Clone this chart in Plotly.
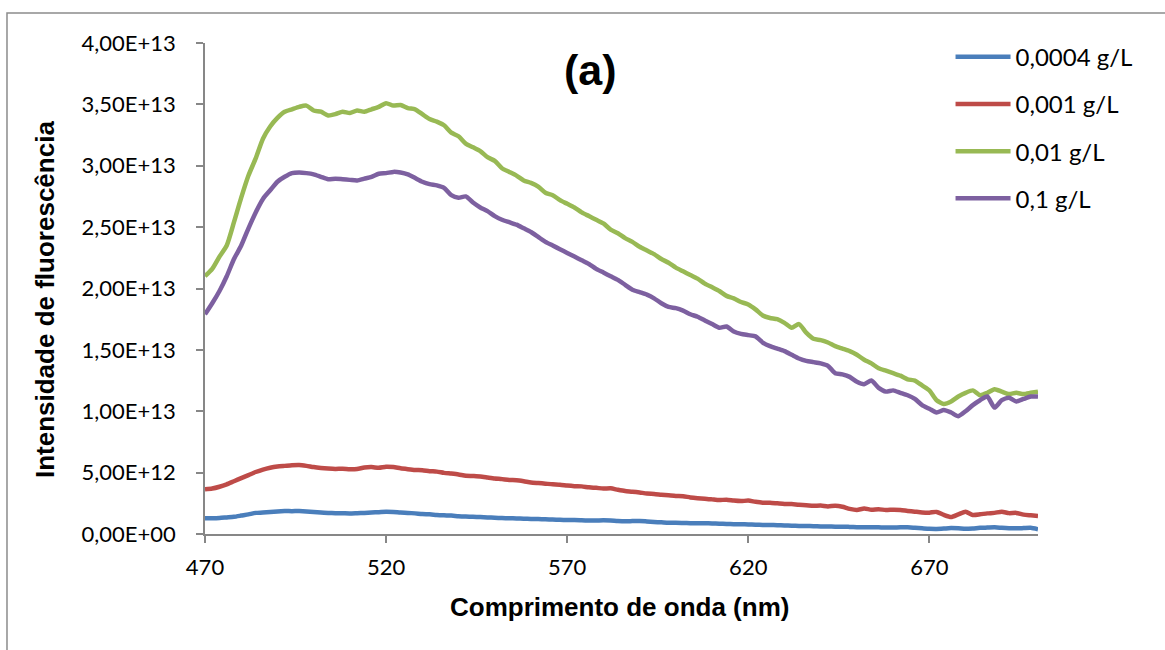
import numpy as np
import plotly.graph_objects as go

# Wavelength grid (nm)
wavelength = list(range(470, 701, 2))

# Fluorescence intensity, in units of 1e12
conc_0004 = [1.28, 1.28, 1.30, 1.35, 1.40, 1.50, 1.60, 1.72, 1.75, 1.80, 1.84, 1.87, 1.86, 1.87, 1.84, 1.80,
             1.75, 1.72, 1.70, 1.69, 1.68, 1.70, 1.72, 1.75, 1.78, 1.82, 1.80, 1.75, 1.72, 1.68, 1.62, 1.60,
             1.55, 1.52, 1.50, 1.45, 1.42, 1.40, 1.38, 1.35, 1.32, 1.30, 1.28, 1.27, 1.25, 1.23, 1.22, 1.20,
             1.18, 1.16, 1.14, 1.14, 1.12, 1.10, 1.10, 1.12, 1.10, 1.06, 1.04, 1.05, 1.06, 1.02, 0.98, 0.95,
             0.92, 0.92, 0.90, 0.88, 0.87, 0.87, 0.86, 0.84, 0.82, 0.80, 0.79, 0.78, 0.76, 0.74, 0.73, 0.72,
             0.70, 0.68, 0.66, 0.65, 0.64, 0.62, 0.61, 0.60, 0.60, 0.58, 0.56, 0.54, 0.55, 0.54, 0.52, 0.53,
             0.54, 0.54, 0.50, 0.46, 0.42, 0.41, 0.44, 0.48, 0.46, 0.42, 0.45, 0.50, 0.52, 0.54, 0.50, 0.47,
             0.46, 0.48, 0.50, 0.38]

conc_001 = [3.64, 3.70, 3.85, 4.05, 4.30, 4.55, 4.80, 5.05, 5.25, 5.40, 5.50, 5.55, 5.60, 5.62, 5.55, 5.45,
            5.38, 5.33, 5.30, 5.32, 5.28, 5.30, 5.42, 5.45, 5.40, 5.48, 5.45, 5.35, 5.28, 5.22, 5.20, 5.12,
            5.08, 4.98, 4.92, 4.85, 4.75, 4.72, 4.68, 4.60, 4.52, 4.47, 4.40, 4.38, 4.30, 4.20, 4.15, 4.10,
            4.05, 4.02, 3.95, 3.90, 3.88, 3.80, 3.76, 3.70, 3.72, 3.60, 3.50, 3.45, 3.38, 3.30, 3.26, 3.20,
            3.15, 3.10, 3.08, 2.98, 2.92, 2.88, 2.82, 2.76, 2.80, 2.72, 2.68, 2.72, 2.62, 2.55, 2.55, 2.50,
            2.45, 2.44, 2.38, 2.35, 2.30, 2.32, 2.25, 2.30, 2.22, 2.05, 1.96, 2.08, 1.98, 2.02, 1.95, 1.98,
            1.96, 1.88, 1.82, 1.76, 1.74, 1.80, 1.55, 1.38, 1.60, 1.82, 1.55, 1.60, 1.68, 1.72, 1.82, 1.70,
            1.72, 1.58, 1.52, 1.47]

conc_01 = [21.0, 21.6, 22.6, 23.5, 25.4, 27.4, 29.2, 30.6, 32.2, 33.2, 33.9, 34.4, 34.6, 34.8, 34.9, 34.5,
           34.4, 34.1, 34.2, 34.4, 34.3, 34.5, 34.4, 34.6, 34.8, 35.1, 34.9, 34.95, 34.7, 34.6, 34.2, 33.8,
           33.6, 33.3, 32.7, 32.4, 31.8, 31.5, 31.2, 30.7, 30.4, 29.8, 29.5, 29.2, 28.8, 28.6, 28.3, 27.8,
           27.6, 27.2, 26.9, 26.6, 26.2, 25.9, 25.6, 25.3, 24.8, 24.5, 24.1, 23.8, 23.4, 23.1, 22.8, 22.4,
           22.1, 21.7, 21.4, 21.1, 20.8, 20.4, 20.1, 19.8, 19.4, 19.2, 18.9, 18.7, 18.3, 17.8, 17.6, 17.5,
           17.2, 16.8, 17.1, 16.4, 15.9, 15.8, 15.6, 15.3, 15.1, 14.9, 14.6, 14.2, 13.9, 13.5, 13.3, 13.1,
           12.9, 12.6, 12.5, 12.1, 11.7, 10.9, 10.6, 10.8, 11.2, 11.5, 11.7, 11.3, 11.5, 11.8, 11.6, 11.4,
           11.5, 11.4, 11.5, 11.6]

conc_1 = [17.9, 18.8, 19.8, 21.0, 22.4, 23.5, 24.9, 26.2, 27.3, 28.0, 28.7, 29.1, 29.4, 29.45, 29.4, 29.3,
          29.1, 28.9, 28.95, 28.9, 28.85, 28.8, 28.95, 29.1, 29.35, 29.4, 29.5, 29.45, 29.3, 29.0, 28.7, 28.5,
          28.4, 28.2, 27.6, 27.4, 27.5, 27.0, 26.6, 26.3, 25.9, 25.6, 25.4, 25.2, 24.9, 24.6, 24.2, 23.8,
          23.5, 23.2, 22.9, 22.6, 22.3, 22.0, 21.6, 21.3, 21.0, 20.7, 20.3, 19.9, 19.7, 19.5, 19.2, 18.8,
          18.5, 18.4, 18.2, 17.9, 17.7, 17.4, 17.1, 16.8, 16.9, 16.5, 16.3, 16.2, 16.1, 15.6, 15.3, 15.1,
          14.9, 14.6, 14.3, 14.1, 14.0, 13.9, 13.7, 13.1, 13.0, 12.8, 12.4, 12.2, 12.5, 11.9, 11.6, 11.7,
          11.5, 11.3, 11.0, 10.5, 10.2, 9.9, 10.1, 9.9, 9.6, 10.0, 10.5, 10.9, 11.2, 10.3, 10.9, 11.1,
          10.8, 11.0, 11.2, 11.2]

series_names = ["0,0004 g/L", "0,001 g/L", "0,01 g/L", "0,1 g/L"]
series_colors = ["#4A7EBB", "#BE4B48", "#98B954", "#7D60A0"]

x_ticks = [470, 520, 570, 620, 670]
y_tick_vals = [0, 5e12, 1e13, 1.5e13, 2e13, 2.5e13, 3e13, 3.5e13, 4e13]
y_tick_text = ["0,00E+00", "5,00E+12", "1,00E+13", "1,50E+13", "2,00E+13",
               "2,50E+13", "3,00E+13", "3,50E+13", "4,00E+13"]

FONT = "Lato, 'Open Sans', sans-serif"
TITLE_FONT = "'Liberation Sans', Arial, sans-serif"
AXIS_GREY = "#878787"

fig = go.Figure()
for i, (name, vals, color) in enumerate(zip(series_names,
                                            [conc_0004, conc_001, conc_01, conc_1],
                                            series_colors)):
    fig.add_trace(go.Scatter(
        x=wavelength,
        y=np.array(vals) * 1e12,
        mode="lines",
        name=name,
        legendgroup=f"g{i}",
        line=dict(color=color, width=4.5, shape="spline", smoothing=0.6),
    ))

fig.update_layout(
    width=1165, height=650,
    margin=dict(l=205, r=127, t=43, b=116),
    paper_bgcolor="white", plot_bgcolor="white",
    font=dict(family=FONT, color="black", size=22),
    showlegend=True,
    legend=dict(
        x=0.895, xanchor="left", y=1.017, yanchor="top",
        font=dict(family=FONT, size=24, color="black"),
        itemwidth=55, tracegroupgap=13, traceorder="grouped",
        bgcolor="rgba(0,0,0,0)",
    ),
    xaxis=dict(
        range=[470, 700], tickvals=x_ticks, ticktext=[str(v) for v in x_ticks],
        showgrid=False, zeroline=False,
        showline=True, linecolor=AXIS_GREY, linewidth=1.5,
        ticks="outside", ticklen=7, tickcolor=AXIS_GREY, tickwidth=1.5,
        tickfont=dict(family=FONT, size=22), ticklabelstandoff=6,
    ),
    yaxis=dict(
        range=[0, 4e13], tickvals=y_tick_vals, ticktext=y_tick_text,
        showgrid=False, zeroline=False,
        showline=True, linecolor=AXIS_GREY, linewidth=1.5,
        ticks="outside", ticklen=7, tickcolor=AXIS_GREY, tickwidth=1.5,
        tickfont=dict(family=FONT, size=22), ticklabelstandoff=16,
    ),
    shapes=[dict(
        type="rect", xref="paper", yref="paper",
        x0=-0.2377, x1=1.3, y0=-0.4, y1=1.0611,
        line=dict(color="#8C8C8C", width=1.5), layer="below",
    )],
    annotations=[
        dict(text="<b>(a)</b>", xref="paper", yref="paper", x=0.463, y=0.945,
             xanchor="center", yanchor="middle", showarrow=False,
             font=dict(family=TITLE_FONT, size=43, color="black")),
        dict(text="<b>Comprimento de onda (nm)</b>", xref="paper", yref="paper",
             x=0.498, y=-0.1487, xanchor="center", yanchor="middle", showarrow=False,
             font=dict(family=TITLE_FONT, size=26, color="black")),
        dict(text="<b>Intensidade de fluorescência</b>", xref="paper", yref="paper",
             x=-0.192, y=0.4766, xanchor="center", yanchor="middle",
             textangle=-90, showarrow=False,
             font=dict(family=TITLE_FONT, size=26, color="black")),
    ],
)

fig.write_html("out.html")
